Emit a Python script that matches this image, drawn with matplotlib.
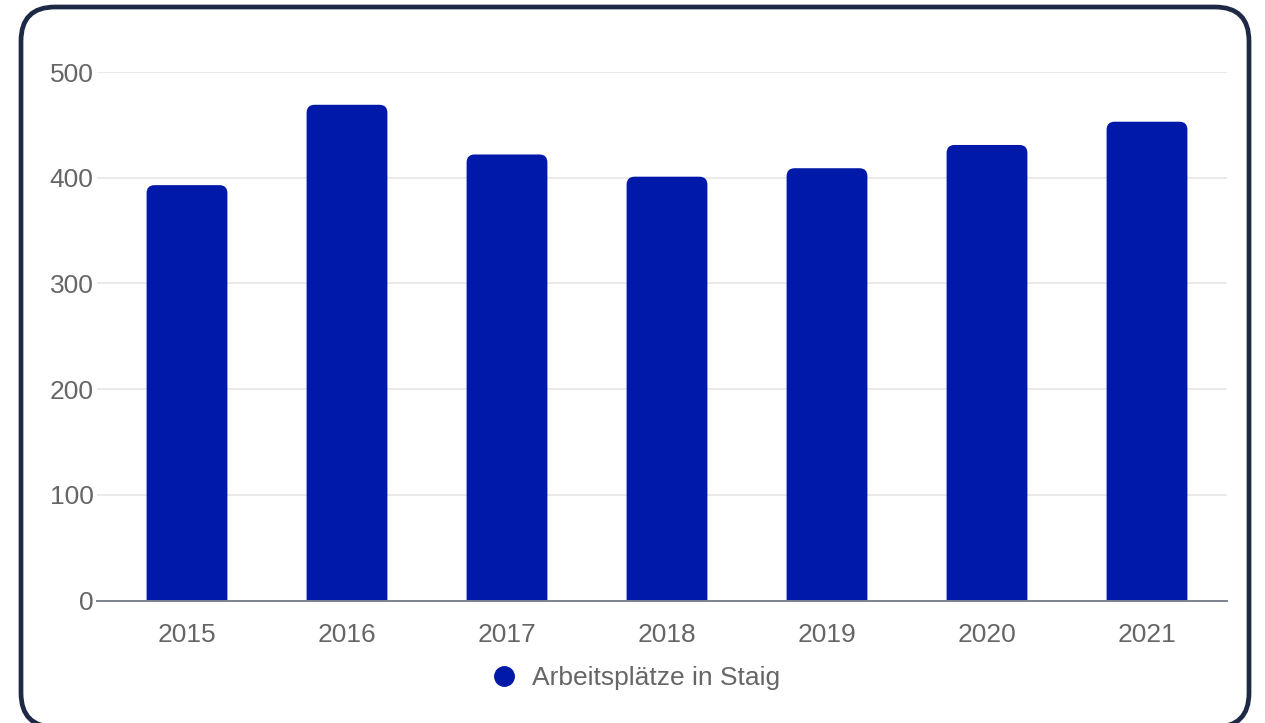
import numpy as np
import matplotlib.pyplot as plt
from matplotlib.patches import FancyBboxPatch
from matplotlib.lines import Line2D

plt.rcParams['font.family'] = ['Liberation Sans', 'DejaVu Sans']

years = ['2015', '2016', '2017', '2018', '2019', '2020', '2021']
jobs = [393, 469, 422, 401, 409, 431, 453]
series_name = 'Arbeitsplätze in Staig'

bar_color = '#0019A8'
text_color = '#666666'

W, H = 1265, 723
fig = plt.figure(figsize=(W / 100, H / 100), dpi=100)

# card frame, drawn in pixel units on a full-figure axes
bg = fig.add_axes([0, 0, 1, 1])
bg.set_xlim(0, W)
bg.set_ylim(H, 0)
bg.axis('off')
bg.add_patch(FancyBboxPatch((21, 7), 1228, 720,
                            boxstyle='round,pad=0,rounding_size=34',
                            facecolor='white', edgecolor='#1E2A45',
                            linewidth=3.4, clip_on=False))

left, right = 97 / W, 1227 / W
bottom, top = 1 - 600.7 / H, 1 - 72 / H
ax = fig.add_axes([left, bottom, right - left, top - bottom])
ax.patch.set_alpha(0)

x = np.arange(len(years))
ax.set_xlim(-0.5625, 6.5)
ax.set_ylim(0, 500)

# rounded top corners; box extends below 0 so bottom corners get clipped
bar_w = 0.505
r = 0.05
asp = (500 / 528.7) / (1 / 160)
for xi, v in zip(x, jobs):
    ax.add_patch(FancyBboxPatch((xi - bar_w / 2, -20), bar_w, v + 20,
                                boxstyle=f'round,pad=0,rounding_size={r}',
                                mutation_aspect=asp,
                                facecolor=bar_color, edgecolor='none',
                                zorder=3))

ax.set_yticks([0, 100, 200, 300, 400, 500])
ax.set_xticks(x)
ax.set_xticklabels(years)
ax.grid(axis='y', color='#E6E6E6', linewidth=1.2, zorder=0)
ax.set_axisbelow(True)
ax.tick_params(axis='both', length=0, labelsize=19, labelcolor=text_color)
ax.tick_params(axis='x', pad=16)
ax.tick_params(axis='y', pad=2.5)
for s in ['top', 'right', 'left']:
    ax.spines[s].set_visible(False)
ax.spines['bottom'].set_color('#7D8290')
ax.spines['bottom'].set_linewidth(1.4)
ax.spines['bottom'].set_zorder(4)

handle = Line2D([], [], marker='o', linestyle='none', markersize=14,
                markerfacecolor=bar_color, markeredgecolor=bar_color)
fig.legend([handle], [series_name], loc='center',
           bbox_to_anchor=((489 + 780) / 2 / W, 1 - 678 / H),
           frameon=False, fontsize=19, labelcolor=text_color,
           handletextpad=0.45, handlelength=1.2)

fig.savefig('out.png', dpi=100)
